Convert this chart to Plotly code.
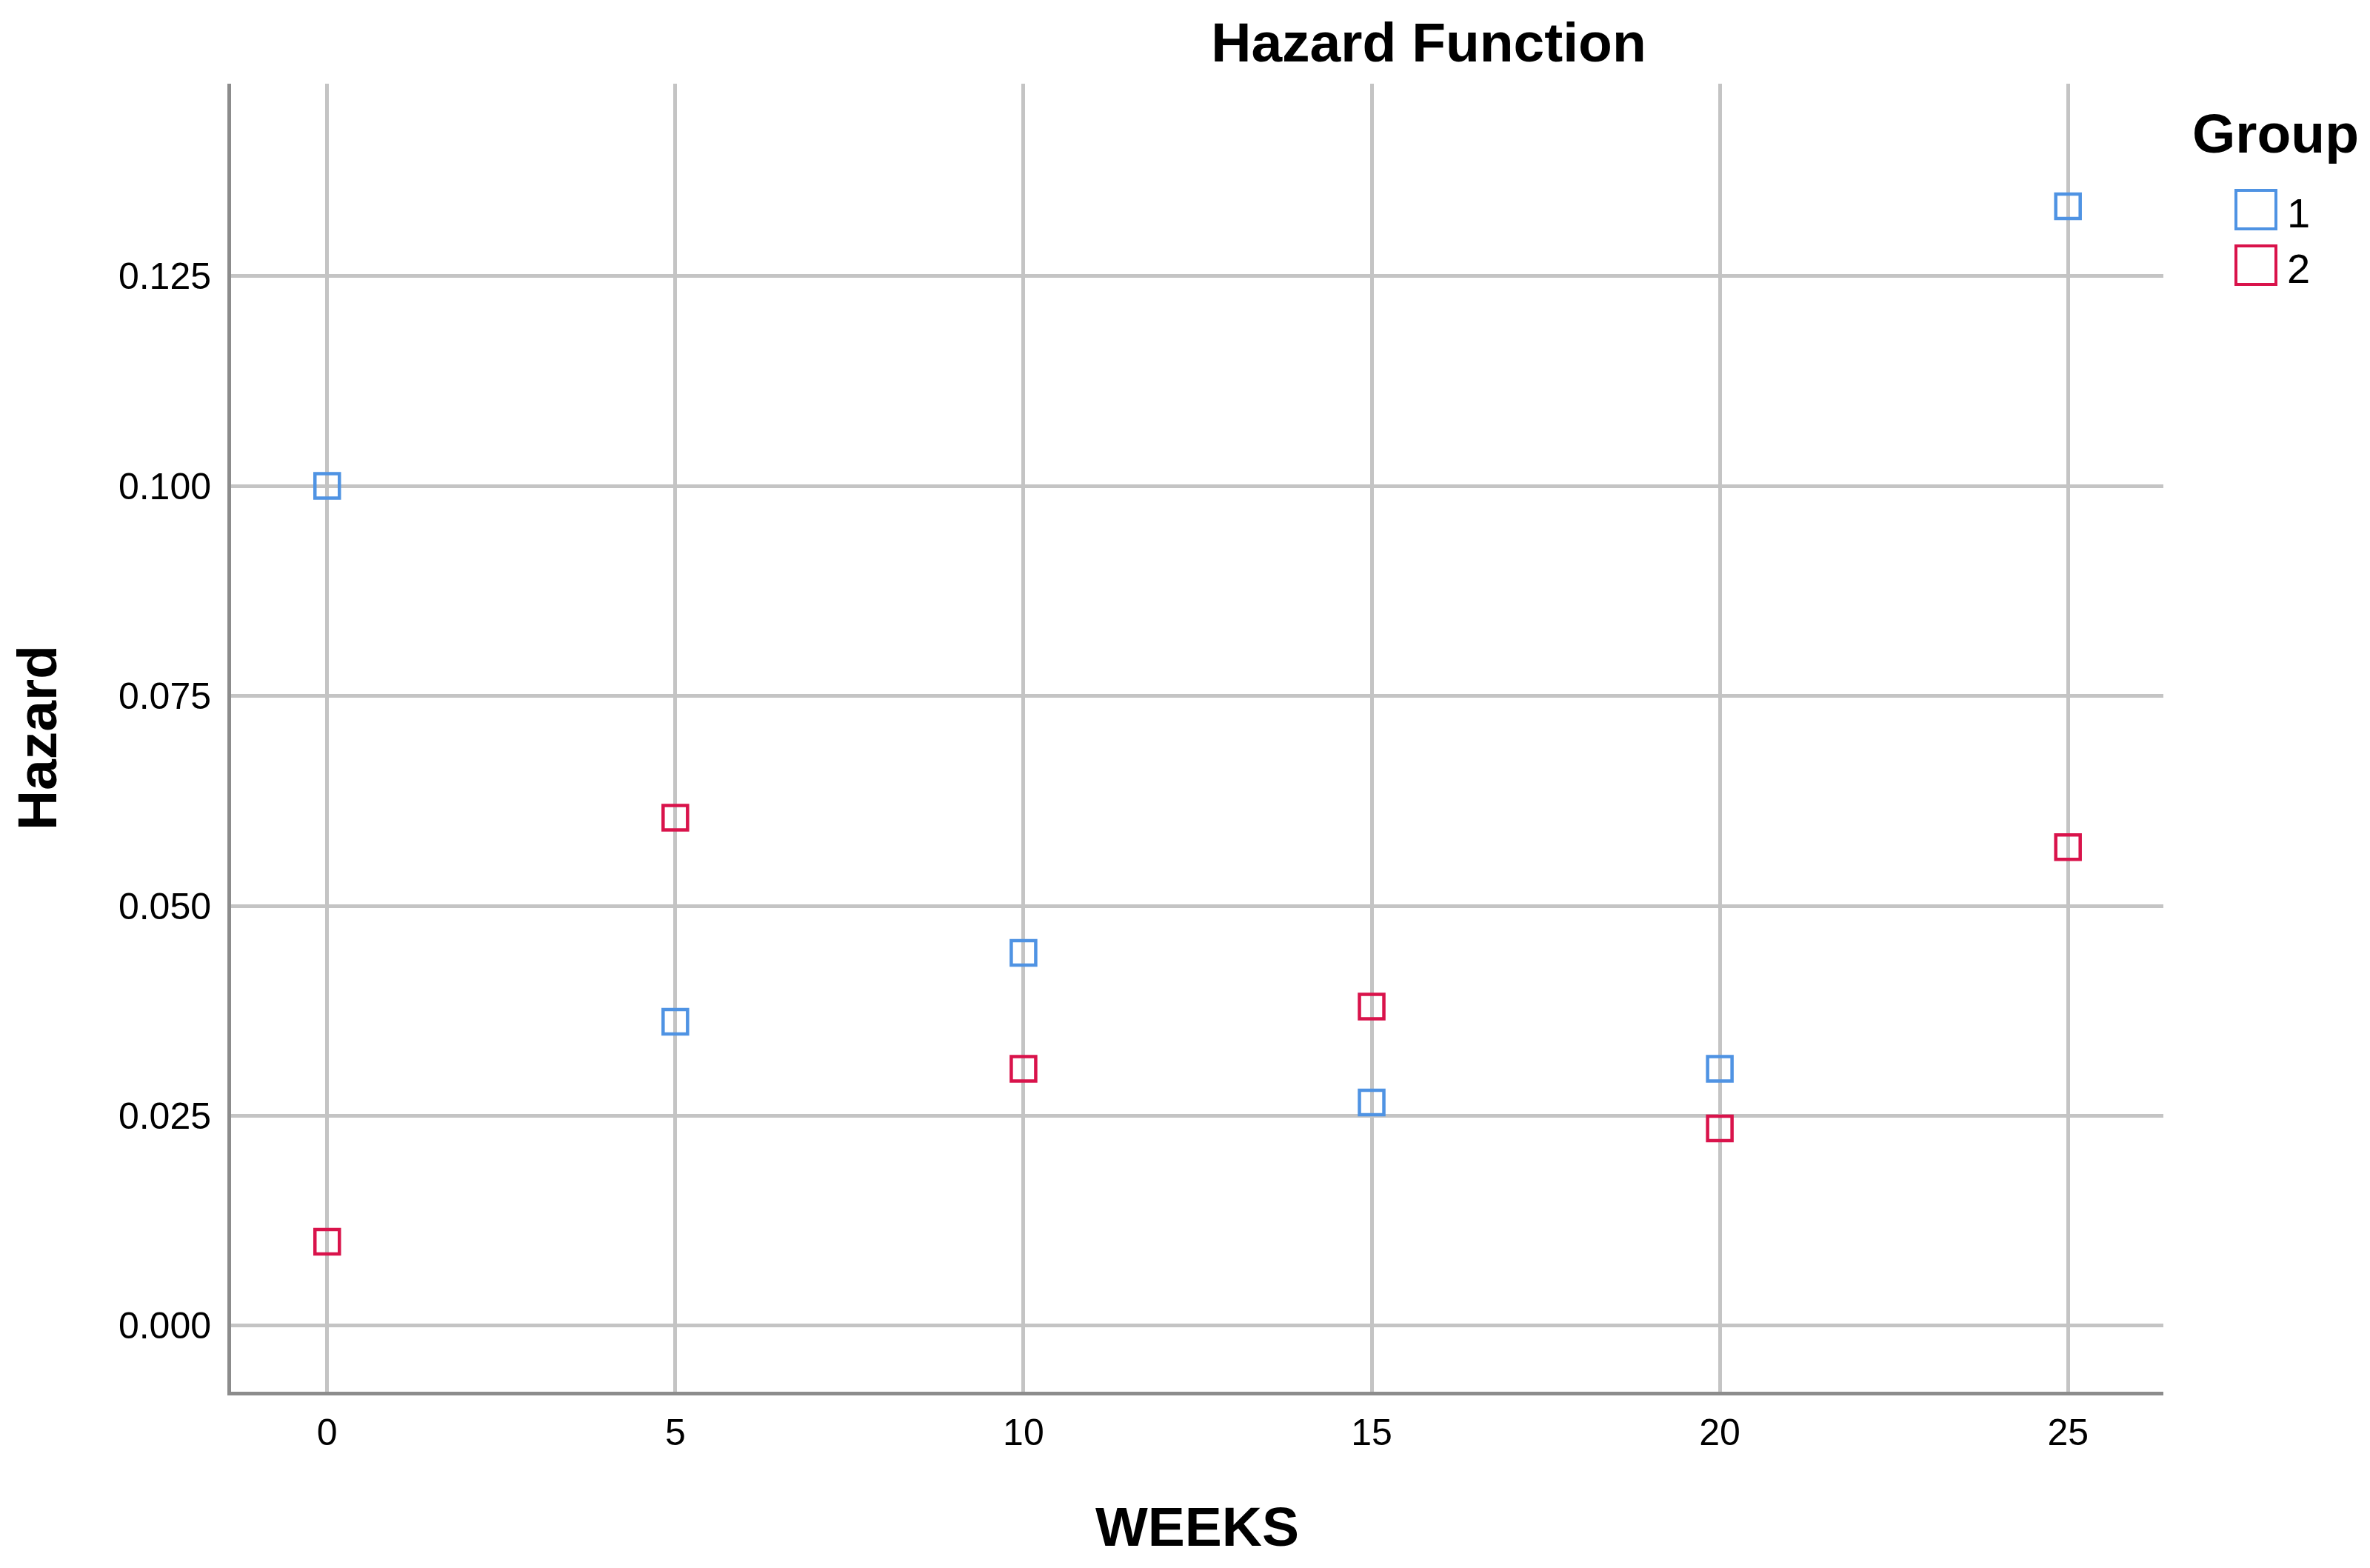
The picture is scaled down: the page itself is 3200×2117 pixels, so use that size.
import plotly.graph_objects as go

weeks = [0, 5, 10, 15, 20, 25]
group1 = [0.1000, 0.0362, 0.0444, 0.0266, 0.0306, 0.1333]
group2 = [0.0100, 0.0605, 0.0306, 0.0380, 0.0235, 0.0570]
group_names = ["1", "2"]
colors = ["#4f93e3", "#d9134b"]
x_ticks = [0, 5, 10, 15, 20, 25]
y_ticks = [0.000, 0.025, 0.050, 0.075, 0.100, 0.125]

OFF = 8  # default body margin of the page
W, H = 3200 - OFF, 2117 - OFF
L, T = 312 - OFF, 113 - OFF
PLOT_RIGHT, PLOT_BOTTOM = 2921 - OFF, 1879 - OFF
R, B = W - PLOT_RIGHT, H - PLOT_BOTTOM
PW, PH = W - L - R, H - T - B
FONT = "Arial, 'Liberation Sans', sans-serif"


def px(x):
    return (x - OFF - L) / PW


def py(y):
    return (PLOT_BOTTOM - (y - OFF)) / PH


fig = go.Figure()
for name, vals, col in zip(group_names, [group1, group2], colors):
    fig.add_trace(go.Scatter(
        x=weeks, y=vals, mode="markers", name=name, showlegend=False,
        marker=dict(symbol="square-open", size=33, color=col,
                    line=dict(width=4.5, color=col)),
        cliponaxis=False,
    ))

shapes = []
annotations = []
# custom legend (Plotly caps legend symbol size)
annotations.append(dict(text="<b>Group</b>", xref="paper", yref="paper",
                        x=px(2958), y=py(180), xanchor="left", yanchor="middle",
                        showarrow=False, font=dict(size=75, color="black", family=FONT)))
for i, (name, col) in enumerate(zip(group_names, colors)):
    cy = 283 + i * 75
    shapes.append(dict(type="rect", xref="paper", yref="paper",
                       x0=px(3019), x1=px(3073), y0=py(cy - 26), y1=py(cy + 26),
                       line=dict(color=col, width=4), fillcolor="rgba(0,0,0,0)"))
    annotations.append(dict(text=name, xref="paper", yref="paper",
                            x=px(3086), y=py(cy + 4), xanchor="left", yanchor="middle",
                            showarrow=False, font=dict(size=56, color="black", family=FONT)))

fig.update_layout(
    width=W, height=H,
    margin=dict(l=L, r=R, t=T, b=B, pad=0),
    paper_bgcolor="white", plot_bgcolor="white",
    font=dict(family=FONT, color="black"),
    title=dict(text="<b>Hazard Function</b>", x=(1929 - OFF) / W, xanchor="center",
               y=1 - (57 - OFF) / H, yanchor="middle", xref="container", yref="container",
               font=dict(size=75, color="black", family=FONT)),
    shapes=shapes,
    annotations=annotations,
    xaxis=dict(
        range=[-1.38, 26.37], tickmode="array", tickvals=x_ticks,
        ticktext=[str(v) for v in x_ticks],
        showgrid=True, gridcolor="#c4c4c4", gridwidth=5,
        zeroline=False, showline=True, linecolor="#8c8c8c", linewidth=5,
        ticks="", ticklabelstandoff=7,
        tickfont=dict(size=50, color="black", family=FONT),
        title=dict(text="<b>WEEKS</b>", standoff=75,
                   font=dict(size=75, color="black", family=FONT)),
    ),
    yaxis=dict(
        range=[-0.00785, 0.1479], tickmode="array", tickvals=y_ticks,
        ticktext=["%.3f" % v for v in y_ticks],
        showgrid=True, gridcolor="#c4c4c4", gridwidth=5,
        zeroline=False, showline=True, linecolor="#8c8c8c", linewidth=5,
        ticks="", ticklabelstandoff=12,
        tickfont=dict(size=50, color="black", family=FONT),
        title=dict(text="<b>Hazard</b>", standoff=60,
                   font=dict(size=75, color="black", family=FONT)),
    ),
)

fig.write_html("out.html")
